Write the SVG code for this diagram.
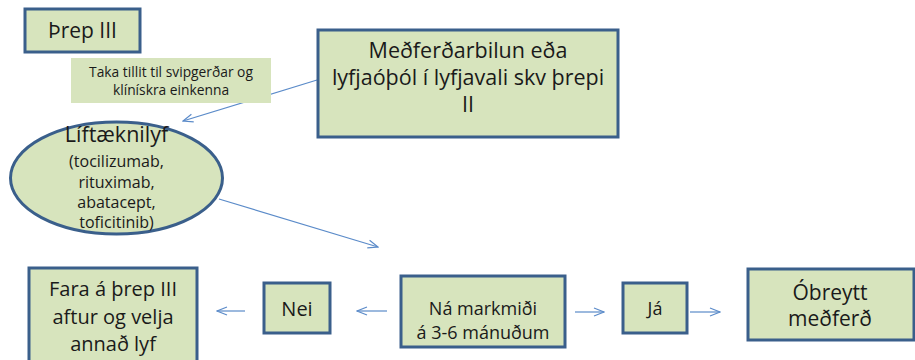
<svg xmlns="http://www.w3.org/2000/svg" width="915" height="360" viewBox="0 0 915 360">
<defs>
<style>
.box{fill:#D7E4BD;stroke:#3A5F8B;stroke-width:3}
.note{fill:#D7E4BD;stroke:none}
.t{font-family:"Open Sans","Liberation Sans",sans-serif;fill:#1a1a1a;text-anchor:middle}
.big{font-size:20px}
.mid{font-size:16px}
.sm{font-size:13.8px}
.c{stroke:#5B8BC9;stroke-width:1.2;fill:none;marker-end:url(#ah)}
</style>
<marker id="ah" markerWidth="12" markerHeight="10" refX="11" refY="5" orient="auto" markerUnits="userSpaceOnUse">
<path d="M1,1 L11,5 L1,9" fill="none" stroke="#5B8BC9" stroke-width="1.2"/>
</marker>
</defs>
<rect width="915" height="360" fill="#fff"/>
<g id="connectors">
<line class="c" x1="317" y1="80" x2="183" y2="121"/>
<line class="c" x1="219" y1="199" x2="378" y2="247"/>
<line class="c" x1="387" y1="311" x2="357" y2="311"/>
<line class="c" x1="245" y1="311" x2="217" y2="311"/>
<line class="c" x1="575" y1="312" x2="604" y2="312"/>
<line class="c" x1="690" y1="312" x2="720" y2="312"/>
</g>
<g id="threp3">
<rect class="box" x="25" y="9" width="115" height="43"/>
<text class="t" style="font-size:21px" x="82.5" y="38">Þrep III</text>
</g>
<g id="taka">
<rect class="note" x="71" y="58" width="200" height="45"/>
<text class="t sm" x="171" y="77">Taka tillit til svipgerðar og</text>
<text class="t sm" x="171" y="95">klínískra einkenna</text>
</g>
<g id="medferdarbilun">
<rect class="box" x="318" y="30" width="300" height="107"/>
<text class="t" style="font-size:21.5px" x="468" y="58">Meðferðarbilun eða</text>
<text class="t" style="font-size:21.5px" x="468" y="85">lyfjaóþól í lyfjavali skv þrepi</text>
<text class="t" style="font-size:21.5px" x="468" y="112">II</text>
</g>
<g id="liftaeknilyf">
<ellipse class="box" cx="116.5" cy="178" rx="106" ry="56"/>
<text class="t" style="font-size:21.5px" x="116.5" y="142">Líftæknilyf</text>
<text class="t mid" x="116.5" y="167">(tocilizumab,</text>
<text class="t mid" x="116.5" y="187.5">rituximab,</text>
<text class="t mid" x="116.5" y="208">abatacept,</text>
<text class="t mid" x="116.5" y="228">toficitinib)</text>
</g>
<g id="fara">
<rect class="box" x="29" y="268" width="168" height="100"/>
<text class="t big" x="113" y="296">Fara á þrep III</text>
<text class="t big" x="113" y="324">aftur og velja</text>
<text class="t big" x="113" y="351">annað lyf</text>
</g>
<g id="nei">
<rect class="box" x="264" y="283" width="66" height="50"/>
<text class="t big" x="297" y="316">Nei</text>
</g>
<g id="na">
<rect class="box" x="401" y="276" width="164" height="71"/>
<text class="t" style="font-size:18px" x="483" y="315">Ná markmiði</text>
<text class="t" style="font-size:18px" x="483" y="339">á 3-6 mánuðum</text>
</g>
<g id="ja">
<rect class="box" x="623" y="283" width="64" height="50"/>
<text class="t" style="font-size:18px" x="655" y="315">Já</text>
</g>
<g id="obreytt">
<rect class="box" x="748" y="269" width="166" height="71"/>
<text class="t" style="font-size:21px" x="830" y="300">Óbreytt</text>
<text class="t" style="font-size:21px" x="830" y="326">meðferð</text>
</g>
</svg>
